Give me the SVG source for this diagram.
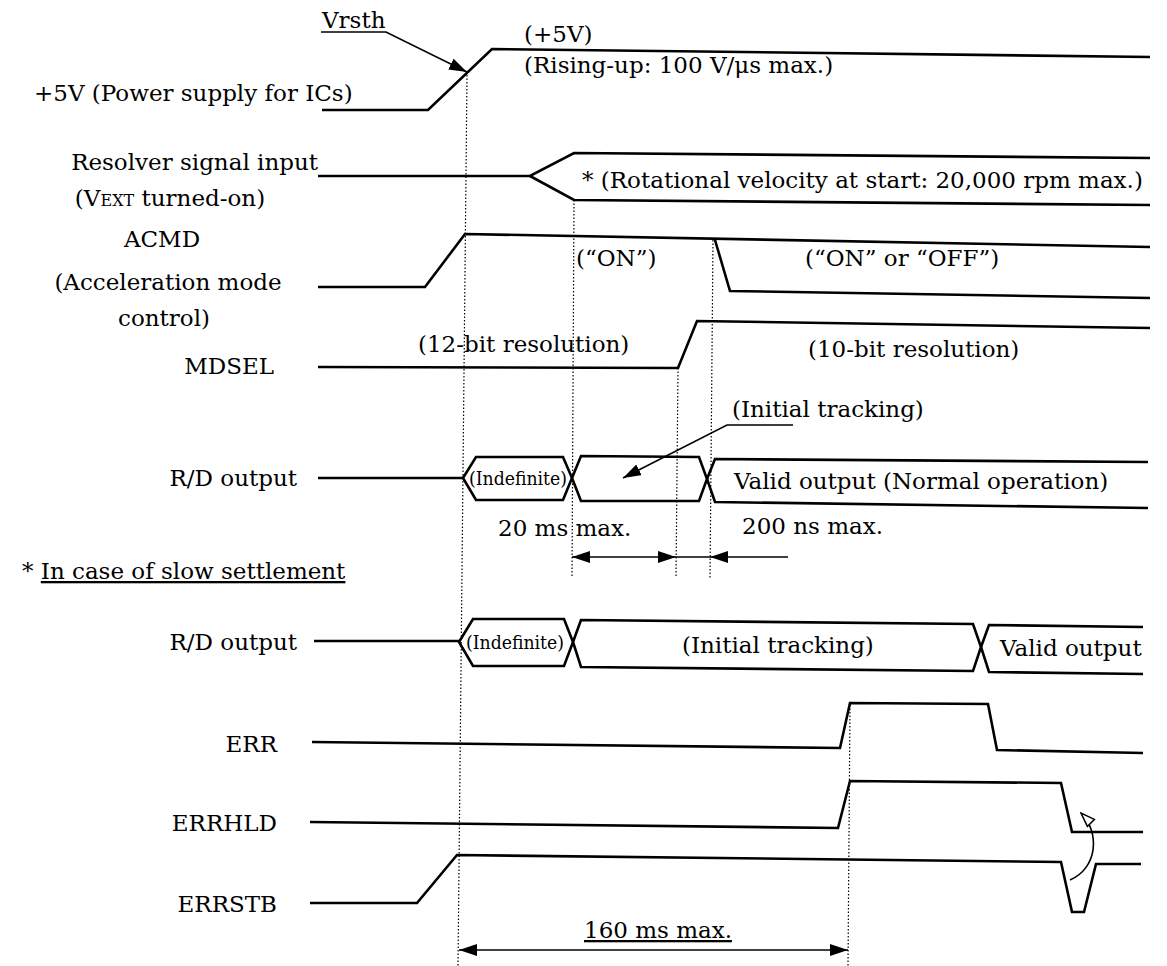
<svg xmlns="http://www.w3.org/2000/svg" width="1167" height="966" viewBox="0 0 1167 966">
<style>
.t{font-family:"DejaVu Serif","Liberation Serif",serif;font-size:23px;fill:#000}
.s{font-family:"DejaVu Serif","Liberation Serif",serif;font-size:16px;fill:#000}
.ind{font-family:"DejaVu Serif","Liberation Serif",serif;font-size:19px;fill:#000}
.sig{fill:none;stroke:#000;stroke-width:2.6;stroke-linejoin:miter}
.thin{fill:none;stroke:#000;stroke-width:1.6}
.dot{fill:none;stroke:#000;stroke-width:1.2;stroke-dasharray:1.5 2}
</style>
<defs>
<marker id="ah" viewBox="0 0 18 12" refX="18" refY="6" markerWidth="18" markerHeight="12" markerUnits="userSpaceOnUse" orient="auto-start-reverse"><path d="M0,0 L18,6 L0,12 z" fill="#000"/></marker>
<marker id="ho" viewBox="0 0 16 12" refX="15" refY="6" markerWidth="16" markerHeight="12" markerUnits="userSpaceOnUse" orient="auto"><path d="M1,1 L15,6 L1,11 z" fill="#fff" stroke="#000" stroke-width="1.5"/></marker>
</defs>
<rect width="1167" height="966" fill="#fff"/>

<g id="connectors">
<path class="dot" d="M467,75 L458,966"/>
<path class="dot" d="M574,200 L572,578"/>
<path class="dot" d="M678,368 L676,578"/>
<path class="dot" d="M713,240 L710,578"/>
<path class="dot" d="M850,705 L848,966"/>
<polyline class="thin" points="321,32 386,32 467,72" marker-end="url(#ah)"/>
<polyline class="thin" points="793,425 727,425 623,478" marker-end="url(#ah)"/>
<line class="thin" x1="572" y1="557" x2="676" y2="557" marker-start="url(#ah)" marker-end="url(#ah)"/>
<line class="thin" x1="676" y1="557" x2="710" y2="557"/>
<line class="thin" x1="788" y1="557" x2="710" y2="557" marker-end="url(#ah)"/>
<line class="thin" x1="459" y1="950" x2="848" y2="950" marker-start="url(#ah)" marker-end="url(#ah)"/>
<path class="thin" d="M1070,880 C1098,868 1100,832 1081,813" marker-end="url(#ho)"/>
</g>

<g id="vdd">
<text class="t" x="322" y="28">Vrsth</text>
<text class="t" x="524" y="42">(+5V)</text>
<text class="t" x="524" y="73">(Rising-up: 100 V/μs max.)</text>
<text class="t" x="34" y="101">+5V (Power supply for ICs)</text>
<polyline class="sig" points="322,110 428,110 492,49 1150,57"/>
</g>

<g id="resolver">
<text class="t" x="318" y="170" text-anchor="end">Resolver signal input</text>
<text class="t" x="170" y="206" text-anchor="middle">(V<tspan class="s">EXT</tspan> turned-on)</text>
<polyline class="sig" points="318,176 530,176 574,153 1150,158"/>
<polyline class="sig" points="530,176 574,200 1150,205"/>
<text class="t" x="582" y="188">* (Rotational velocity at start: 20,000 rpm max.)</text>
</g>

<g id="acmd">
<text class="t" x="162" y="247" text-anchor="middle">ACMD</text>
<text class="t" x="168" y="290" text-anchor="middle">(Acceleration mode</text>
<text class="t" x="164" y="326" text-anchor="middle">control)</text>
<polyline class="sig" points="318,287 425,287 465,234 1150,247"/>
<polyline class="sig" points="715,240 730,291 1150,298"/>
<text class="t" x="576" y="266">(“ON”)</text>
<text class="t" x="805" y="266">(“ON” or “OFF”)</text>
</g>

<g id="mdsel">
<text class="t" x="274" y="374" text-anchor="end">MDSEL</text>
<polyline class="sig" points="318,367 678,368 697,321 1150,328"/>
<text class="t" x="418" y="352">(12-bit resolution)</text>
<text class="t" x="808" y="357">(10-bit resolution)</text>
</g>

<g id="rd1">
<text class="t" x="297" y="486" text-anchor="end">R/D output</text>
<line class="sig" x1="318" y1="478" x2="463" y2="478"/>
<path class="sig" d="M463,478 L476,457 L563,457 L572,478 L563,500 L476,500 Z"/>
<path class="sig" d="M572,478 L581,456 L699,457 L707,479 L699,501 L581,501 Z"/>
<polyline class="sig" points="707,479 715,459 1148,462"/>
<polyline class="sig" points="707,479 715,502 1148,508"/>
<text class="ind" x="469" y="485" textLength="98" lengthAdjust="spacingAndGlyphs">(Indefinite)</text>
<text class="t" x="734" y="489">Valid output (Normal operation)</text>
<text class="t" x="732" y="417">(Initial tracking)</text>
<text class="t" x="498" y="536">20 ms max.</text>
<text class="t" x="742" y="534">200 ns max.</text>
</g>

<g id="note">
<text class="t" x="22" y="579">* <tspan text-decoration="underline">In case of slow settlement</tspan></text>
</g>

<g id="rd2">
<text class="t" x="297" y="650" text-anchor="end">R/D output</text>
<line class="sig" x1="314" y1="641" x2="459" y2="641"/>
<path class="sig" d="M459,642 L473,619 L564,619 L573,642 L564,666 L473,666 Z"/>
<path class="sig" d="M573,642 L581,620 L973,624 L981,647 L973,671 L581,667 Z"/>
<polyline class="sig" points="981,647 989,625 1143,627"/>
<polyline class="sig" points="981,647 989,672 1143,674"/>
<text class="ind" x="466" y="649" textLength="98" lengthAdjust="spacingAndGlyphs">(Indefinite)</text>
<text class="t" x="682" y="653">(Initial tracking)</text>
<text class="t" x="1000" y="656">Valid output</text>
</g>

<g id="err">
<text class="t" x="277" y="752" text-anchor="end">ERR</text>
<polyline class="sig" points="312,742 840,748 850,703 988,704 997,750 1143,753"/>
</g>

<g id="errhld">
<text class="t" x="277" y="831" text-anchor="end">ERRHLD</text>
<polyline class="sig" points="310,822 838,828 850,781 1061,783 1072,832 1143,832"/>
</g>

<g id="errstb">
<text class="t" x="277" y="912" text-anchor="end">ERRSTB</text>
<polyline class="sig" points="310,903 417,903 457,855 1061,862 1072,912 1084,912 1096,864 1141,864"/>
<text class="t" x="584" y="938" text-decoration="underline">160 ms max.</text>
</g>
</svg>
